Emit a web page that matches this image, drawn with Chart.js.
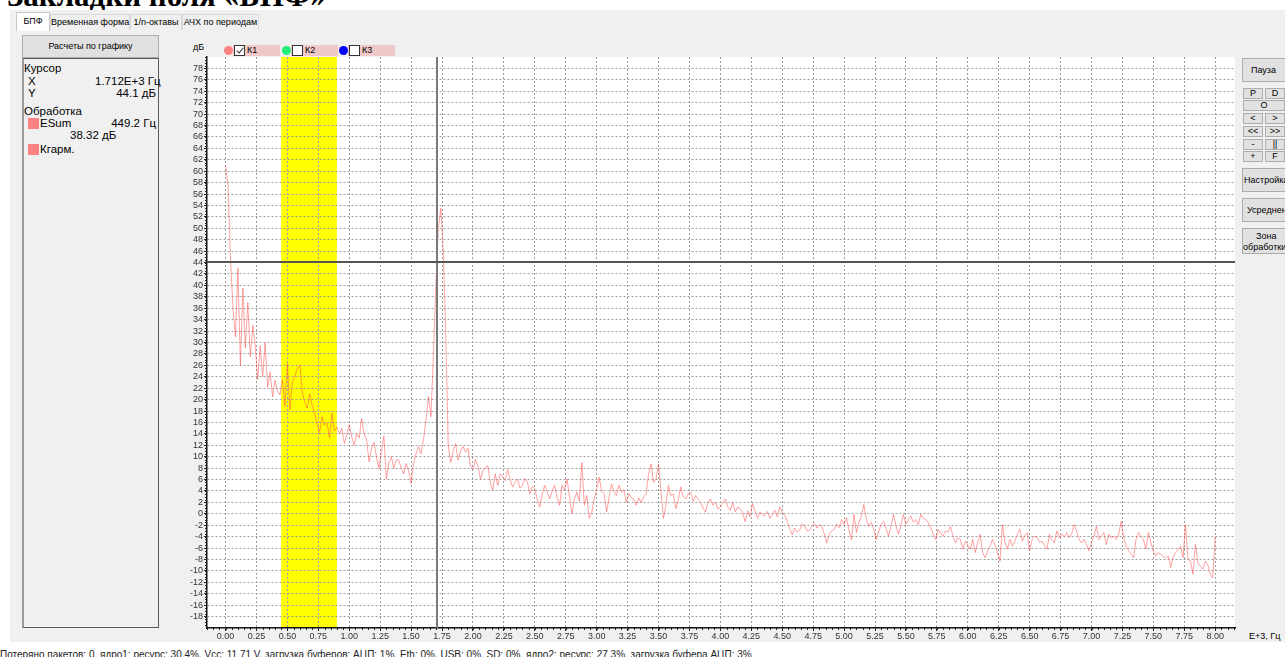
<!DOCTYPE html>
<html>
<head>
<meta charset="utf-8">
<script src="https://cdn.jsdelivr.net/npm/chart.js@4.4.1/dist/chart.umd.min.js"></script>
<style>
  body { margin:0; width:1285px; height:657px; overflow:hidden; position:relative; background:#fff;
         font-family:"Liberation Sans", Arial, sans-serif; color:#000; }
  .abs { position:absolute; white-space:nowrap; }
  #heading { left:7px; top:-20px; font:bold 31px/31px "Liberation Serif", serif; }
  #frame { left:10px; top:10px; width:1275px; height:632px; background:#f0f0f0; }
  .tab { position:absolute; font-size:9px; text-align:center; white-space:nowrap; border:1px solid #d9d9d9; border-bottom:none; background:#f0f0f0; box-sizing:border-box; }
  .tab.sel { background:#fff; border-color:#c8c8c8; }
  .btn { position:absolute; background:#e1e1e1; border:1px solid #adadad; box-sizing:border-box; font-size:9px; text-align:center; overflow:hidden; white-space:nowrap; }
  #box { left:22px; top:58px; width:137px; height:570px; border:1px solid #5a5a5a; border-left:2px solid #9a9a9a; box-sizing:border-box; }
  .info { position:absolute; font-size:11.5px; line-height:12px; white-space:nowrap; }
  .sw { position:absolute; width:11px; height:11px; background:#ff8282; }
  .pill { position:absolute; top:45px; height:11px; width:47px; background:#f0c8c8; }
  .dot { position:absolute; top:46px; width:9px; height:9px; border-radius:50%; }
  .chk { position:absolute; top:45px; width:11px; height:11px; background:#fff; border:1px solid #333; box-sizing:border-box; }
  .lbl { position:absolute; top:45px; font-size:9px; line-height:11px; }
  #status { left:0; top:649px; font-size:10px; color:#222; }
</style>
</head>
<body>
<div id="heading" class="abs">Закладки поля «БПФ»</div>
<div id="frame" class="abs"></div>

<div class="tab sel" style="left:16px;top:12px;width:34px;height:19px;line-height:17px;">БПФ</div>
<div class="tab" style="left:50px;top:14px;width:80px;height:16px;line-height:15px;">Временная форма</div>
<div class="tab" style="left:130px;top:14px;width:52px;height:16px;line-height:15px;">1/n-октавы</div>
<div class="tab" style="left:182px;top:14px;width:77px;height:16px;line-height:15px;">АЧХ по периодам</div>

<div class="btn" style="left:22px;top:35px;width:137px;height:23px;line-height:21px;">Расчеты по графику</div>
<div id="box" class="abs"></div>
<div class="info" style="left:24px;top:62px;">Курсор</div>
<div class="info" style="left:28px;top:75px;">X</div>
<div class="info" style="left:95px;top:75px;width:61px;text-align:right;">1.712E+3 Гц</div>
<div class="info" style="left:28px;top:87px;">Y</div>
<div class="info" style="left:95px;top:87px;width:61px;text-align:right;">44.1 дБ</div>
<div class="info" style="left:24px;top:105px;">Обработка</div>
<div class="sw" style="left:28px;top:118px;"></div>
<div class="info" style="left:40px;top:117px;">ESum</div>
<div class="info" style="left:95px;top:117px;width:61px;text-align:right;">449.2 Гц</div>
<div class="info" style="left:70px;top:129px;">38.32 дБ</div>
<div class="sw" style="left:28px;top:144px;"></div>
<div class="info" style="left:40px;top:143px;">Кгарм.</div>

<div class="abs" style="left:193px;top:42px;font-size:9px;">дБ</div>
<div class="dot" style="left:224px;background:#ff8080;"></div>
<div class="pill" style="left:233px;"></div>
<div class="chk" style="left:234px;"><div style="position:absolute;left:3px;top:0px;width:3px;height:6px;border:solid #333;border-width:0 1px 1px 0;transform:rotate(40deg);"></div></div>
<div class="lbl" style="left:247px;">К1</div>
<div class="dot" style="left:282px;background:#22ee77;"></div>
<div class="pill" style="left:291px;"></div>
<div class="chk" style="left:292px;"></div>
<div class="lbl" style="left:305px;">К2</div>
<div class="dot" style="left:339px;background:#0000ff;"></div>
<div class="pill" style="left:348px;"></div>
<div class="chk" style="left:349px;"></div>
<div class="lbl" style="left:362px;">К3</div>

<div class="btn" style="left:1242px;top:58px;width:50px;height:24px;line-height:22px;padding-right:7px;">Пауза</div>
<div class="btn" style="left:1243px;top:88px;width:20px;height:11px;line-height:9px;">P</div>
<div class="btn" style="left:1265px;top:88px;width:20px;height:11px;line-height:9px;">D</div>
<div class="btn" style="left:1243px;top:100px;width:42px;height:11px;line-height:9px;">O</div>
<div class="btn" style="left:1243px;top:113px;width:20px;height:11px;line-height:9px;">&lt;</div>
<div class="btn" style="left:1265px;top:113px;width:20px;height:11px;line-height:9px;">&gt;</div>
<div class="btn" style="left:1243px;top:126px;width:20px;height:11px;line-height:9px;">&lt;&lt;</div>
<div class="btn" style="left:1265px;top:126px;width:20px;height:11px;line-height:9px;">&gt;&gt;</div>
<div class="btn" style="left:1243px;top:139px;width:20px;height:11px;line-height:9px;">-</div>
<div class="btn" style="left:1265px;top:139px;width:20px;height:11px;line-height:9px;">||</div>
<div class="btn" style="left:1243px;top:151px;width:20px;height:11px;line-height:9px;">+</div>
<div class="btn" style="left:1265px;top:151px;width:20px;height:11px;line-height:9px;">F</div>
<div class="btn" style="left:1242px;top:168px;width:50px;height:24px;line-height:22px;text-align:left;padding-left:1px;">Настройка</div>
<div class="btn" style="left:1242px;top:198px;width:50px;height:24px;line-height:22px;text-align:left;padding-left:4px;">Усреднен</div>
<div class="btn" style="left:1242px;top:228px;width:50px;height:26px;line-height:11px;padding-top:2px;text-align:left;"><span style="padding-left:13px;">Зона</span><br>обработки</div>

<div class="abs" style="left:1249px;top:631px;font-size:9px;">E+3, Гц</div>
<div id="status" class="abs">Потеряно пакетов: 0, ядро1: ресурс: 30.4%, Vcc: 11.71 V, загрузка буферов: АЦП: 1%, Eth: 0%, USB: 0%, SD: 0%, ядро2: ресурс: 27.3%, загрузка буфера АЦП: 3%</div>

<canvas id="fftChart" class="abs" style="left:170px;top:38px;" width="1070" height="612"></canvas>

<script>
// FFT spectrum, channel K1 (kHz bins of 0.02, levels in dB)
const binStep = 0.02;

// 0.00 - 0.98 kHz
const levelsLow = [61, 57.5, 44.5, 36, 31, 43, 26, 39.5, 29, 37,
  27.5, 33, 29.5, 23.5, 29.4, 24, 30, 22.2, 24.8, 20.5,
  23.4, 21.5, 20.8, 23.5, 18.8, 26.3, 18.2, 23, 24, 25.5,
  26, 21.5, 19.5, 18.5, 21, 19, 17.6, 15.8, 14.2, 17,
  15.5, 16, 13.3, 17.6, 14.5, 15.2, 14, 15, 12.3, 14];

// 1.00 - 1.98 kHz (peak near 1.7)
const levelsPeak = [15.6, 13.5, 12, 14, 13.3, 16.7, 14, 13, 9.1, 11.5,
  12.5, 10, 7.9, 11, 13.6, 6.1, 9, 10, 8, 9.5,
  9.4, 8, 7, 8.8, 7.5, 5.3, 8.8, 10.5, 11.8, 10.5,
  13, 16.4, 20.5, 17, 27.5, 40, 50, 53.5, 46, 31.6,
  12, 9, 11, 12.3, 9.4, 11, 11.8, 10.8, 11.5, 8.3];

// 2.00 - 4.98 kHz
const levelsMid = [7.8, 9.5, 8.4, 6.1, 7.5, 8.1, 8.4, 5.5, 4.1, 7,
  5, 7, 6.5, 5.8, 7.8, 6, 4.7, 5.5, 6.1, 4.5,
  5, 6.2, 5.5, 3.5, 4.8, 4.4, 2.5, 1.2, 3.5, 5,
  3.8, 2.6, 4, 5, 2.8, 1.5, 5, 4.2, 6.1, 3,
  0, 2.5, 3.8, 2.2, 9, 1.5, 3.2, -0.8, 0.3, 2.5,
  4.4, 6.4, 4, 3.5, 0.3, 2.8, 5.2, 4, 3.2, 5,
  3.8, 4.2, 2, 3.5, 2.8, 2.6, 1.5, 2.8, 2, 3,
  3.5, 7, 8.7, 5.5, 6.1, 8.7, 3.8, -0.8, 1.5, 5,
  3.2, 3.5, 0.9, 2.5, 4.7, 3, 2.6, 3.5, 3.8, 2.2,
  3.2, 2.5, 2, 1, 0.3, 2, 2.6, 1.5, 2, 0.8,
  1.2, 2, 2.6, 1.2, 0.6, 2, 0.3, 1.2, 0.9, 0.2,
  -1.4, 0.5, -0.5, 1.8, 0.5, -0.8, 0.3, -0.2, -0.3, 0.4,
  -0.8, -0.2, 0.6, -0.5, 1.2, 0.2, -0.3, -1.2, -2.6, -3.7,
  -2.5, -3.2, -2.9, -1.8, -2, -3, -2.9, -2.2, -1.7, -2.5,
  -1.9, -2.2, -3.5, -5.1, -3.6, -3, -2.7, -1.8, -2.4, -1];

// 5.00 - 8.00 kHz
const levelsHigh = [-1.9, -0.7, -3, -4.5, -0.1, -3.3, -1.5, -0.4, 1.6, -1,
  -2.2, -1.5, -2.7, -4.5, -3, -1.9, -1.3, -2.7, -3.9, -2,
  -0.1, -2.2, -3.6, -2, -0.1, -1.9, -1, -0.4, -1.5, -1,
  -1.9, -0.1, -0.8, -1, -1.5, -2.4, -3.5, -4.5, -2.7, -3.5,
  -3.9, -3, -3.2, -2.2, -3.9, -5.1, -4.2, -4.5, -6.2, -4.8,
  -5.5, -6.2, -4.5, -6.8, -5, -3.6, -6.8, -7.7, -6.5, -5.7,
  -4.5, -5.5, -6.8, -8.3, -1.9, -5, -6.2, -4.5, -5.7, -4.8,
  -3.6, -2.7, -4.8, -3.8, -3.3, -6.5, -4.5, -3.9, -4.2, -5,
  -4.8, -5.5, -6.2, -3.6, -4.5, -5.1, -3, -4.2, -3.6, -4,
  -3.3, -4.2, -3.5, -1.9, -3, -4.5, -5.1, -4.5, -5.4, -6.5,
  -5, -3.9, -2.2, -4.5, -3.8, -3.3, -5.4, -3.6, -4.2, -3.9,
  -4.5, -3.6, -1.3, -4.2, -5.7, -6.5, -7.1, -7.7, -4.5, -3.3,
  -4, -4.5, -6.2, -3.3, -5, -6.5, -7.4, -6.8, -7.1, -7.5,
  -7.7, -7.4, -9.4, -7.5, -6.8, -6.2, -5.7, -7.7, -1.9, -8,
  -8.3, -10.6, -5.4, -8.5, -9.2, -9.7, -8.3, -8.9, -10.6, -11.2,
  -4];

// axis ticks
const xTicks = [0, 0.25, 0.5, 0.75, 1, 1.25, 1.5, 1.75, 2, 2.25, 2.5, 2.75, 3, 3.25, 3.5, 3.75,
  4, 4.25, 4.5, 4.75, 5, 5.25, 5.5, 5.75, 6, 6.25, 6.5, 6.75, 7, 7.25, 7.5, 7.75, 8];
const yTicks = [-18, -16, -14, -12, -10, -8, -6, -4, -2, 0, 2, 4, 6, 8, 10, 12, 14, 16, 18, 20,
  22, 24, 26, 28, 30, 32, 34, 36, 38, 40, 42, 44, 46, 48, 50, 52, 54, 56, 58, 60,
  62, 64, 66, 68, 70, 72, 74, 76, 78];

// processing zone and cursor
const zoneFrom = 0.45, zoneTo = 0.90;
const cursorX = 1.712, cursorY = 44.1;

const levels = levelsLow.concat(levelsPeak, levelsMid, levelsHigh);
const points = levels.map((v, i) => ({ x: i * binStep, y: v }));

const fontFam = "'Liberation Sans', Arial, sans-serif";

const plotDecor = {
  id: "plotDecor",
  beforeDraw(chart) {
    const { ctx, chartArea: a, scales: { x } } = chart;
    ctx.save();
    ctx.fillStyle = "#ffffff";
    ctx.fillRect(a.left, a.top, a.right - a.left, a.bottom - a.top);
    ctx.fillStyle = "#ffff00";
    const x1 = x.getPixelForValue(zoneFrom), x2 = x.getPixelForValue(zoneTo);
    ctx.fillRect(x1, a.top, x2 - x1, a.bottom - a.top);
    ctx.restore();
  },
  afterDatasetsDraw(chart) {
    const { ctx, chartArea: a, scales: { x, y } } = chart;
    ctx.save();
    ctx.lineWidth = 2;
    ctx.strokeStyle = "#7a7a7a";
    const cx = Math.round(x.getPixelForValue(cursorX));
    ctx.beginPath(); ctx.moveTo(cx, a.top); ctx.lineTo(cx, a.bottom); ctx.stroke();
    ctx.strokeStyle = "#555555";
    const cy = Math.round(y.getPixelForValue(cursorY));
    ctx.beginPath(); ctx.moveTo(a.left, cy); ctx.lineTo(a.right, cy); ctx.stroke();
    ctx.restore();
  },
  afterDraw(chart) {
    // minor ticks
    const { ctx, chartArea: a, scales: { x, y } } = chart;
    ctx.save();
    ctx.strokeStyle = "#222";
    ctx.lineWidth = 1;
    ctx.beginPath();
    for (let k = -3; k <= 163; k++) {
      const px = Math.round(x.getPixelForValue(k * 0.05)) + 0.5;
      if (px < a.left || px > a.right) continue;
      ctx.moveTo(px, a.bottom); ctx.lineTo(px, a.bottom + 2);
    }
    for (let k = -40; k <= 160; k++) {
      const py = Math.round(y.getPixelForValue(k * 0.5)) + 0.5;
      if (py < a.top || py > a.bottom) continue;
      ctx.moveTo(a.left - 2, py); ctx.lineTo(a.left, py);
    }
    ctx.stroke();
    ctx.restore();
  }
};

new Chart(document.getElementById("fftChart"), {
  type: "line",
  data: {
    datasets: [{
      data: points,
      borderColor: "rgba(255,70,70,0.5)",
      borderWidth: 1,
      pointRadius: 0,
      tension: 0,
      fill: false
    }]
  },
  options: {
    responsive: false,
    animation: false,
    events: [],
    layout: { padding: { left: 0, top: 19, right: 5, bottom: 0 } },
    plugins: { legend: { display: false }, tooltip: { enabled: false } },
    scales: {
      x: {
        type: "linear",
        min: -0.15,
        max: 8.16,
        afterBuildTicks: s => { s.ticks = xTicks.map(v => ({ value: v })); },
        afterFit: s => { s.height = 22; },
        ticks: {
          autoSkip: false, maxRotation: 0, padding: 0, color: "#333",
          font: { size: 9, family: fontFam },
          callback: v => v.toFixed(2)
        },
        grid: { color: "#9e9e9e", lineWidth: 1, tickColor: "#222", tickLength: 3 },
        border: { display: true, color: "#111", width: 1.5, dash: [2, 2] }
      },
      y: {
        min: -20,
        max: 80,
        afterBuildTicks: s => { s.ticks = yTicks.map(v => ({ value: v })); },
        afterFit: s => { s.width = 37; },
        ticks: {
          autoSkip: false, padding: 1, color: "#333",
          font: { size: 9, family: fontFam }
        },
        grid: { color: "#9e9e9e", lineWidth: 1, tickColor: "#222", tickLength: 3 },
        border: { display: true, color: "#111", width: 1.5, dash: [2, 2] }
      }
    }
  },
  plugins: [plotDecor]
});
</script>
</body>
</html>
